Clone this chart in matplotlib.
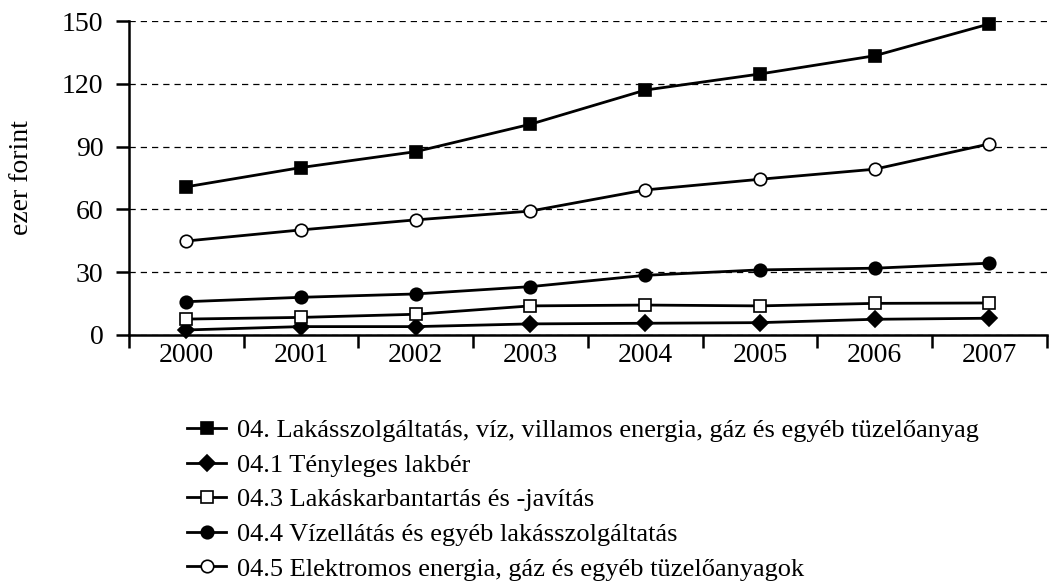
import matplotlib.pyplot as plt
import numpy as np

plt.rcParams['font.family'] = ['Liberation Serif', 'DejaVu Serif']

years = ['2000', '2001', '2002', '2003', '2004', '2005', '2006', '2007']

lakas = [70.8, 80.0, 87.6, 100.7, 117.0, 124.7, 133.4, 148.6]
lakber = [2.4, 4.0, 4.0, 5.3, 5.6, 5.9, 7.5, 8.0]
karbantartas = [7.6, 8.4, 9.9, 13.9, 14.3, 13.9, 15.1, 15.3]
vizellatas = [15.9, 18.0, 19.6, 23.1, 28.5, 31.1, 31.9, 34.3]
elektromos = [44.9, 50.2, 55.0, 59.2, 69.3, 74.4, 79.2, 91.3]

labels = [
    '04. Lakásszolgáltatás, víz, villamos energia, gáz és egyéb tüzelőanyag',
    '04.1 Tényleges lakbér',
    '04.3 Lakáskarbantartás és -javítás',
    '04.4 Vízellátás és egyéb lakásszolgáltatás',
    '04.5 Elektromos energia, gáz és egyéb tüzelőanyagok',
]

fig = plt.figure(figsize=(10.53, 5.84), dpi=100)
ax = fig.add_axes([0.1225, 0.4264, 0.8715, 0.5376])

x = np.arange(len(years))
series = [
    (lakas, 's', 'black', 9),
    (lakber, 'D', 'black', 8.5),
    (karbantartas, 's', 'white', 9),
    (vizellatas, 'o', 'black', 9),
    (elektromos, 'o', 'white', 9),
]
for (vals, mk, fc, ms), lab in zip(series, labels):
    ax.plot(x, vals, color='black', lw=2, marker=mk, markersize=ms,
            markerfacecolor=fc, markeredgecolor='black', markeredgewidth=1.2,
            label=lab, clip_on=False, zorder=3)

ax.set_xlim(-0.5, 7.5)
ax.set_ylim(0, 150)
ax.set_yticks([0, 30, 60, 90, 120, 150])
ax.set_xticks(x)
ax.set_xticklabels(years)
ax.set_xticks(np.arange(-0.5, 8, 1), minor=True)
ax.tick_params(axis='x', which='major', length=0, pad=6, labelsize=20)
ax.tick_params(axis='x', which='minor', length=9, width=1.8, direction='out')
ax.tick_params(axis='y', length=9.5, width=1.8, labelsize=20, pad=9)

ax.grid(axis='y', color='black', linestyle=(0, (5, 4)), linewidth=0.9)
ax.spines['top'].set_visible(False)
ax.spines['right'].set_visible(False)
ax.spines['left'].set_linewidth(1.8)
ax.spines['bottom'].set_linewidth(1.8)
ax.set_ylabel('ezer forint', fontsize=20)
ax.yaxis.set_label_coords(-0.104, 0.5)

ax.legend(loc='upper left', bbox_to_anchor=(0.063, -0.267), frameon=False,
          fontsize=19, handlelength=1.5, handletextpad=0.4, labelspacing=0.42,
          borderaxespad=0, borderpad=0)

fig.savefig('out.png', dpi=100)
